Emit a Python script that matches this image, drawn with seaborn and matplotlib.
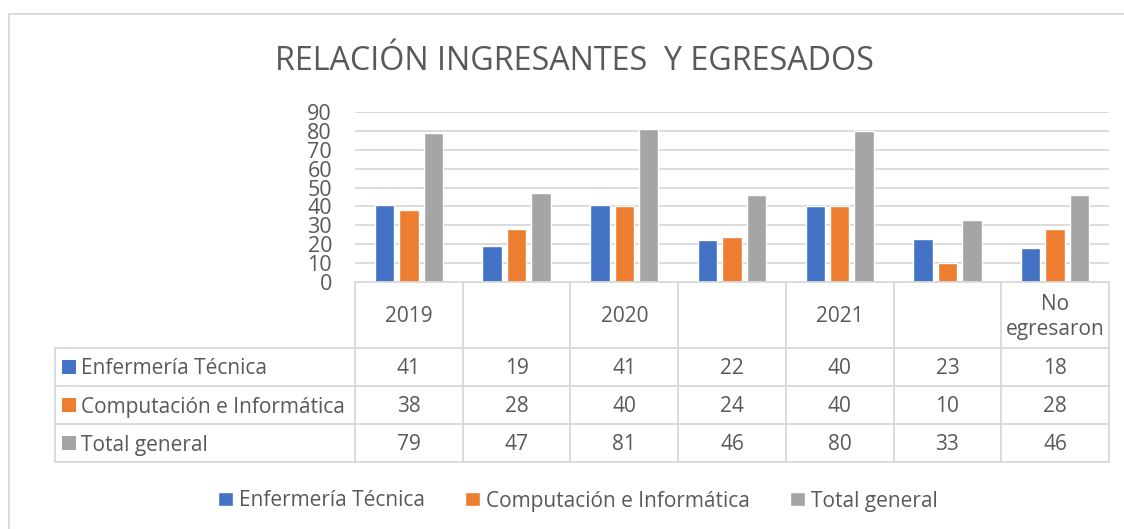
import numpy as np
import pandas as pd
import seaborn as sns
import matplotlib.pyplot as plt
from matplotlib.patches import Rectangle

# data
categorias = ['2019', '', '2020', '', '2021', '', 'No\negresaron']
series = ['Enfermería Técnica', 'Computación e Informática', 'Total general']
enfermeria = [41, 19, 41, 22, 40, 23, 18]
computacion = [38, 28, 40, 24, 40, 10, 28]
total = [79, 47, 81, 46, 80, 33, 46]
colores = ['#4472C4', '#ED7D31', '#A5A5A5']

valores = [enfermeria, computacion, total]
rows = []
for s, vals in zip(series, valores):
    for i, v in enumerate(vals):
        rows.append({'pos': i, 'serie': s, 'valor': v})
df = pd.DataFrame(rows)

sns.set_style('white')
plt.rcParams['font.family'] = ['Open Sans', 'DejaVu Sans']
txt_col = '#595959'
line_col = '#D9D9D9'

W, H = 1124, 529
fig = plt.figure(figsize=(W / 100, H / 100), dpi=100)

# pixel layout
x0, x1 = 355, 1109
y_top, y_bot = 112, 282
ax = fig.add_axes([x0 / W, 1 - y_bot / H, (x1 - x0) / W, (y_bot - y_top) / H])

sns.barplot(data=df, x='pos', y='valor', hue='serie', hue_order=series,
            palette=colores, width=0.68, gap=0.2, native_scale=True,
            saturation=1, ax=ax)
ax.set_xlim(-0.5, len(categorias) - 0.5)
ax.set_ylim(0, 90)
ax.set_yticks(range(0, 91, 10))
ax.tick_params(axis='y', labelsize=15.5, labelcolor=txt_col, length=0, pad=16.5)
ax.set_xticks([])
ax.set_xlabel('')
ax.set_ylabel('')
ax.grid(axis='y', color=line_col, linewidth=1.3)
ax.set_axisbelow(True)
for sp in ax.spines.values():
    sp.set_visible(False)
handles, labels = ax.get_legend_handles_labels()
ax.get_legend().remove()

# overlay in pixel coordinates for title, table and frame
ov = fig.add_axes([0, 0, 1, 1], zorder=-1)
ov.set_xlim(0, W)
ov.set_ylim(H, 0)
ov.axis('off')
ov.plot([9, W + 5], [14, 14], color=line_col, lw=1.3)
ov.plot([9, 9], [14, H + 5], color=line_col, lw=1.3)

fig.text(574 / W, 1 - 61 / H, 'RELACIÓN INGRESANTES  Y EGRESADOS',
         ha='center', va='center', fontsize=23.2, color=txt_col)

ov2 = fig.add_axes([0, 0, 1, 1], zorder=5)
ov2.set_xlim(0, W)
ov2.set_ylim(H, 0)
ov2.axis('off')
ov2.patch.set_alpha(0)

cw = (x1 - x0) / len(categorias)
row_y = [282, 348, 386, 424, 462]
lx = 55
# horizontal lines
ov2.plot([x0, x1], [282, 282], color=line_col, lw=1.3)
for yy in row_y[1:]:
    ov2.plot([lx, x1], [yy, yy], color=line_col, lw=1.3)
# vertical lines
ov2.plot([lx, lx], [348, 462], color=line_col, lw=1.3)
for i in range(len(categorias) + 1):
    ov2.plot([x0 + i * cw] * 2, [282, 462], color=line_col, lw=1.3)

fs = 15
for i, c in enumerate(categorias):
    ov2.text(x0 + (i + 0.5) * cw, 317, c, ha='center', va='center',
             fontsize=fs, color=txt_col, linespacing=1.2)

for r, (s, vals, col) in enumerate(zip(series, valores, colores)):
    yc = (row_y[r + 1] + row_y[r + 2]) / 2
    ov2.add_patch(Rectangle((62, yc - 7), 14, 14, color=col, lw=0))
    ov2.text(81, yc + 2, s, ha='left', va='center', fontsize=fs, color=txt_col)
    for i, v in enumerate(vals):
        ov2.text(x0 + (i + 0.5) * cw, yc + 2, str(v), ha='center', va='center',
                 fontsize=fs, color=txt_col)

leg = fig.legend(handles, labels, loc='center', bbox_to_anchor=(578 / W, 1 - 501 / H),
                 ncol=3, frameon=False, fontsize=fs, handlelength=0.68,
                 handleheight=0.68, handletextpad=0.3, columnspacing=1.95)
for t in leg.get_texts():
    t.set_color(txt_col)

fig.savefig('out.png', dpi=100)
